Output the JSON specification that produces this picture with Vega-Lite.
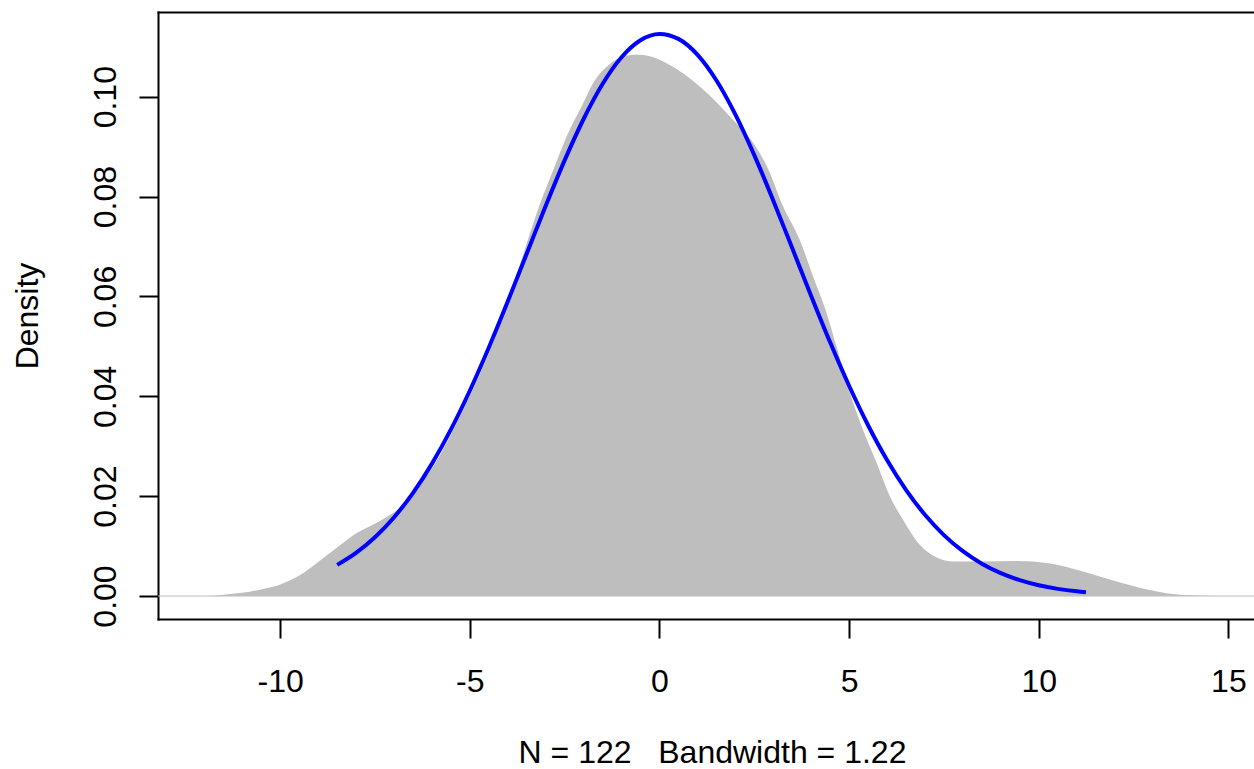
{
  "$schema": "https://vega.github.io/schema/vega-lite/v6.json",
  "width": 1096,
  "height": 607,
  "autosize": "none",
  "padding": {"left": 158, "top": 12, "right": 0, "bottom": 150},
  "background": "white",
  "config": {
    "view": {"stroke": null},
    "font": "Liberation Sans",
    "axis": {
      "labelFont": "Liberation Sans",
      "titleFont": "Liberation Sans",
      "labelFontSize": 32,
      "titleFontSize": 32,
      "labelColor": "black",
      "titleColor": "black",
      "titleFontWeight": "normal",
      "domainColor": "black",
      "domainWidth": 2,
      "domainCap": "square",
      "tickColor": "black",
      "tickWidth": 2,
      "tickSize": 19,
      "grid": false
    }
  },
  "datasets": {
    "density": [
      {"x": -12.17, "y": 0},
      {"x": -11.77, "y": 0.00006},
      {"x": -11.32, "y": 0.0004},
      {"x": -10.8, "y": 0.00086},
      {"x": -10.45, "y": 0.0014},
      {"x": -10.0, "y": 0.0023},
      {"x": -9.47, "y": 0.0042},
      {"x": -9.03, "y": 0.0066},
      {"x": -8.5, "y": 0.0097},
      {"x": -7.98, "y": 0.0126},
      {"x": -7.29, "y": 0.0154},
      {"x": -6.76, "y": 0.0182},
      {"x": -6.31, "y": 0.0224},
      {"x": -5.97, "y": 0.0259},
      {"x": -5.48, "y": 0.0326},
      {"x": -5.05, "y": 0.0393},
      {"x": -4.65, "y": 0.0459},
      {"x": -4.29, "y": 0.0527},
      {"x": -3.99, "y": 0.0593},
      {"x": -3.68, "y": 0.0663},
      {"x": -3.47, "y": 0.0713},
      {"x": -3.24, "y": 0.0766},
      {"x": -2.8, "y": 0.0853},
      {"x": -2.45, "y": 0.092},
      {"x": -2.01, "y": 0.0987},
      {"x": -1.75, "y": 0.1027},
      {"x": -1.31, "y": 0.1065},
      {"x": -0.99, "y": 0.108},
      {"x": -0.6, "y": 0.1084},
      {"x": -0.25, "y": 0.1081},
      {"x": 0.19, "y": 0.1067},
      {"x": 1.07, "y": 0.102},
      {"x": 1.95, "y": 0.0953},
      {"x": 2.47, "y": 0.0908},
      {"x": 2.83, "y": 0.0861},
      {"x": 3.26, "y": 0.078},
      {"x": 3.7, "y": 0.0713},
      {"x": 4.05, "y": 0.064},
      {"x": 4.41, "y": 0.0566},
      {"x": 4.67, "y": 0.0499},
      {"x": 5.02, "y": 0.0407},
      {"x": 5.37, "y": 0.0332},
      {"x": 5.73, "y": 0.0266},
      {"x": 6.08, "y": 0.0199},
      {"x": 6.43, "y": 0.0152},
      {"x": 6.87, "y": 0.0102},
      {"x": 7.31, "y": 0.0077},
      {"x": 7.75, "y": 0.0069},
      {"x": 8.45, "y": 0.0069},
      {"x": 9.42, "y": 0.007},
      {"x": 10.3, "y": 0.0065},
      {"x": 11.17, "y": 0.0049},
      {"x": 12.05, "y": 0.0029},
      {"x": 12.93, "y": 0.0012},
      {"x": 13.81, "y": 0.0002},
      {"x": 14.69, "y": 0.00003},
      {"x": 14.9, "y": 0}
    ],
    "normal": [
      {"x": -8.495, "y": 0.006237},
      {"x": -8.0, "y": 0.00864},
      {"x": -7.5, "y": 0.011781},
      {"x": -7.0, "y": 0.015738},
      {"x": -6.5, "y": 0.020616},
      {"x": -6.0, "y": 0.02647},
      {"x": -5.5, "y": 0.033318},
      {"x": -5.0, "y": 0.04111},
      {"x": -4.5, "y": 0.049728},
      {"x": -4.0, "y": 0.058969},
      {"x": -3.5, "y": 0.068538},
      {"x": -3.0, "y": 0.0781},
      {"x": -2.5, "y": 0.087242},
      {"x": -2.0, "y": 0.09553},
      {"x": -1.5, "y": 0.102545},
      {"x": -1.0, "y": 0.107906},
      {"x": -0.5, "y": 0.111308},
      {"x": 0.0, "y": 0.112556},
      {"x": 0.5, "y": 0.111574},
      {"x": 1.0, "y": 0.108421},
      {"x": 1.5, "y": 0.103282},
      {"x": 2.0, "y": 0.096446},
      {"x": 2.5, "y": 0.08829},
      {"x": 3.0, "y": 0.079227},
      {"x": 3.5, "y": 0.069694},
      {"x": 4.0, "y": 0.060102},
      {"x": 4.5, "y": 0.050807},
      {"x": 5.0, "y": 0.042105},
      {"x": 5.5, "y": 0.034207},
      {"x": 6.0, "y": 0.027239},
      {"x": 6.5, "y": 0.021265},
      {"x": 7.0, "y": 0.016271},
      {"x": 7.5, "y": 0.012207},
      {"x": 8.0, "y": 0.00898},
      {"x": 8.5, "y": 0.006474},
      {"x": 9.0, "y": 0.004575},
      {"x": 9.5, "y": 0.00317},
      {"x": 10.0, "y": 0.002152},
      {"x": 10.5, "y": 0.001433},
      {"x": 11.0, "y": 0.000935},
      {"x": 11.244, "y": 0.000754}
    ]
  },
  "resolve": {"axis": {"x": "independent"}},
  "layer": [
    {
      "data": {"name": "density"},
      "mark": {"type": "area", "color": "#BEBEBE", "interpolate": "monotone", "clip": true},
      "encoding": {
        "x": {
          "field": "x", "type": "quantitative",
          "scale": {"domain": [-13.22, 15.675], "nice": false, "zero": false},
          "axis": {
            "orient": "bottom",
            "values": [-10, -5, 0, 5, 10, 15],
            "labelExpr": "'' + datum.value",
            "labelBaseline": "alphabetic",
            "labelPadding": 53,
            "labelFlush": false,
            "labelOverlap": false,
            "title": "N = 122\u00a0\u00a0\u00a0Bandwidth = 1.22",
            "titleBaseline": "alphabetic",
            "titleAnchor": "start",
            "titleAlign": "center",
            "titleX": 554,
            "titleY": 143
          }
        },
        "y": {
          "field": "y", "type": "quantitative",
          "scale": {"domain": [-0.0046, 0.11696], "nice": false, "zero": false},
          "axis": {
            "values": [0, 0.02, 0.04, 0.06, 0.08, 0.1],
            "format": ".2f",
            "labelAngle": 270,
            "labelAlign": "center",
            "labelBaseline": "alphabetic",
            "labelPadding": 24,
            "labelFlush": false,
            "labelOverlap": false,
            "title": "Density",
            "titleAngle": 270,
            "titleAlign": "center",
            "titleBaseline": "alphabetic",
            "titleX": -121,
            "titleY": 303.5
          }
        }
      }
    },
    {
      "data": {"values": [{"y": 0}]},
      "mark": {"type": "rule", "color": "#BEBEBE", "strokeWidth": 1},
      "encoding": {
        "y": {"field": "y", "type": "quantitative"}
      }
    },
    {
      "data": {"name": "normal"},
      "mark": {"type": "line", "color": "#0000FF", "strokeWidth": 4, "interpolate": "monotone", "clip": true},
      "encoding": {
        "x": {
          "field": "x", "type": "quantitative",
          "axis": {"orient": "top", "labels": false, "ticks": false, "domain": true, "title": null}
        },
        "y": {"field": "y", "type": "quantitative"}
      }
    }
  ]
}
